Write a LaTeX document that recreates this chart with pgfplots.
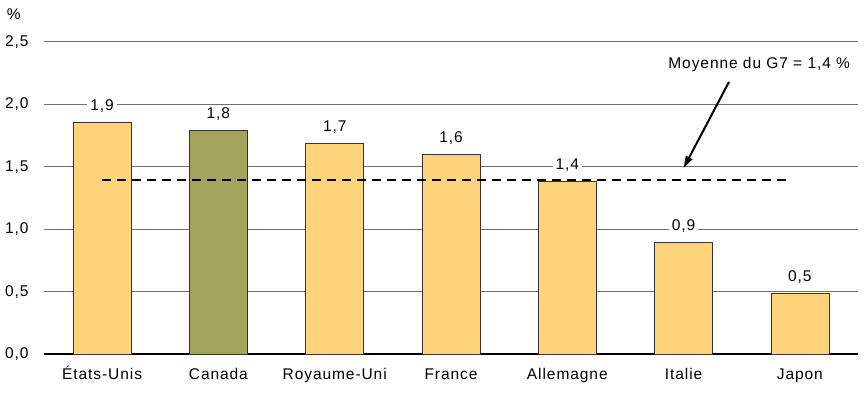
\documentclass[border=0pt]{standalone}
\usepackage{pgfplots}
\pgfplotsset{compat=1.18}
\usepackage{fontspec}
\setmainfont[LetterSpace=6]{Liberation Sans}
\usetikzlibrary{arrows.meta}

\definecolor{barjaune}{HTML}{FFD37A}
\definecolor{barvert}{HTML}{A3A45E}
\definecolor{grille}{HTML}{707070}

\begin{document}
\begin{tikzpicture}[font=\fontsize{15.5}{18}\selectfont]
\begin{axis}[
	scale only axis,
	width=814pt, height=312pt,
	xmin=-0.5, xmax=6.5,
	ymin=0, ymax=2.5,
	ytick={0,0.5,1,1.5,2,2.5},
	xtick={0,1,2,3,4,5,6},
	xticklabels={États-Unis, Canada, Royaume-Uni, France, Allemagne, Italie, Japon},
	axis x line=bottom,
	axis y line=left,
	x axis line style={-, line width=2.5pt},
	y axis line style={draw=none},
	major tick length=0pt,
	ymajorgrids,
	grid style={grille, line width=1pt},
	/pgf/number format/assume math mode=true,
	/pgf/number format/.cd, fixed, fixed zerofill, precision=1, use comma,
	/pgfplots/.cd,
	yticklabel style={xshift=-12pt},
	xticklabel style={anchor=north, text height=11pt, text depth=3pt, yshift=-11pt},
	ybar, bar width=58pt, bar shift=0pt,
	clip=false,
]
\addplot[fill=barjaune, draw=black!80, line width=0.7pt,
	nodes near coords,
	nodes near coords style={fill=white, inner sep=3pt, anchor=south, yshift=6pt,
		/pgf/number format/assume math mode=true,
		/pgf/number format/.cd, fixed, fixed zerofill, precision=1, use comma}]
	coordinates {(0,1.86) (2,1.69) (3,1.60) (4,1.386) (5,0.897) (6,0.489)};
\addplot[fill=barvert, draw=black!80, line width=0.7pt,
	nodes near coords,
	nodes near coords style={fill=white, inner sep=3pt, anchor=south, yshift=6pt,
		/pgf/number format/assume math mode=true,
		/pgf/number format/.cd, fixed, fixed zerofill, precision=1, use comma}]
	coordinates {(1,1.795)};
\addplot[sharp plot, black, line width=2.5pt, dash pattern=on 9pt off 6pt, mark=none]
	coordinates {(0,1.394) (5.93,1.394)};

\draw[-{Triangle[length=12pt, width=7pt]}, line width=2pt]
	(axis cs:5.39,2.18) -- (axis cs:5.0,1.49);
\node at (axis cs:5.65,2.32) {Moyenne du G7 = 1,4 \%};
\node at (rel axis cs:-0.037,1.09) {\%};

\coordinate (bl) at (rel axis cs:-0.054,-0.205);
\coordinate (tr) at (rel axis cs:1.011,1.1346);
\end{axis}
\pgfresetboundingbox
\path (bl) rectangle (tr);
\end{tikzpicture}
\end{document}
